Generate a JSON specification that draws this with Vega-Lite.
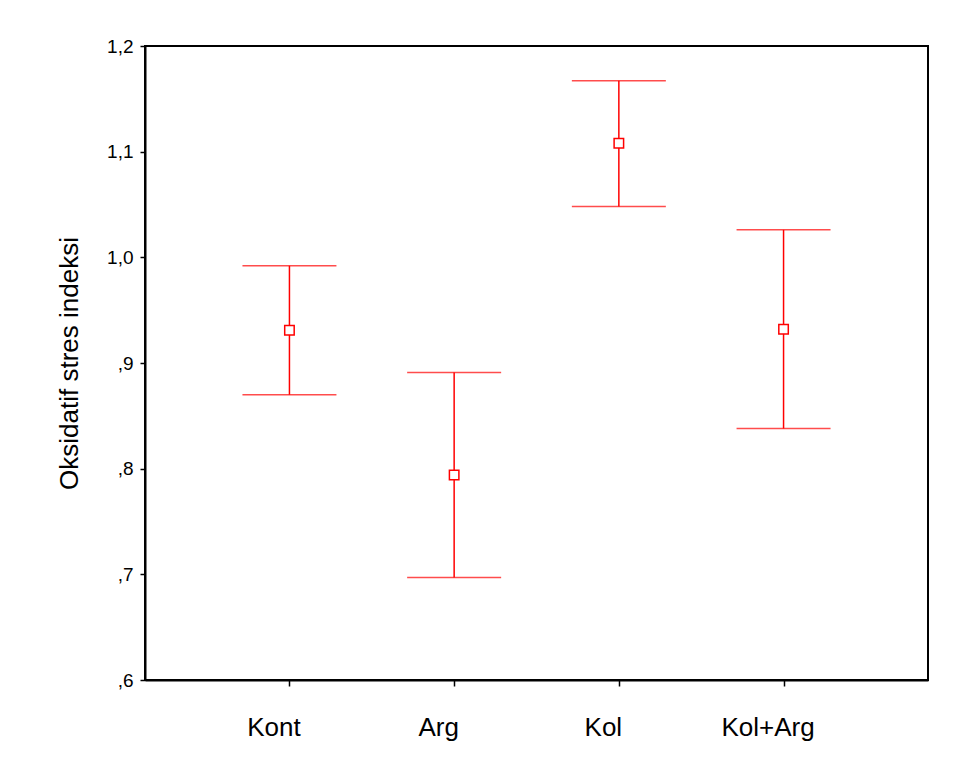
{
  "$schema": "https://vega.github.io/schema/vega-lite/v6.json",
  "width": 783,
  "height": 634,
  "autosize": {"type": "none"},
  "padding": {"left": 145, "top": 46, "right": 31, "bottom": 83},
  "background": "white",
  "data": {
    "values": [
      {"grup": "Kont", "ortalama": 0.931, "alt": 0.870, "ust": 0.992},
      {"grup": "Arg", "ortalama": 0.794, "alt": 0.697, "ust": 0.891},
      {"grup": "Kol", "ortalama": 1.108, "alt": 1.048, "ust": 1.167},
      {"grup": "Kol+Arg", "ortalama": 0.932, "alt": 0.838, "ust": 1.026}
    ]
  },
  "config": {
    "font": "Liberation Sans",
    "view": {"stroke": "#000000", "strokeWidth": 2},
    "axis": {
      "domainColor": "#000000",
      "domainWidth": 2,
      "tickColor": "#000000",
      "tickWidth": 1.5,
      "labelColor": "#000000",
      "titleColor": "#000000",
      "grid": false
    }
  },
  "encoding": {
    "x": {
      "field": "grup",
      "type": "nominal",
      "sort": null,
      "scale": {"type": "point", "padding": 0.877},
      "axis": {
        "title": null,
        "labelAngle": 0,
        "labelFontSize": 26,
        "labelPadding": 28,
        "labelOffset": -16,
        "tickSize": 6
      }
    }
  },
  "layer": [
    {
      "mark": {"type": "rule", "color": "#ff0000", "strokeWidth": 1.5},
      "encoding": {
        "y": {
          "field": "alt",
          "type": "quantitative",
          "scale": {"domain": [0.6, 1.2], "nice": false, "zero": false},
          "axis": {
            "values": [0.6, 0.7, 0.8, 0.9, 1.0, 1.1, 1.2],
            "labelExpr": "datum.value < 0.999 ? replace(format(datum.value, '.1f'), '0.', ',') : replace(format(datum.value, '.1f'), '.', ',')",
            "labelFontSize": 19,
            "labelPadding": 7,
            "tickSize": 5,
            "title": "Oksidatif stres indeksi",
            "titleFontSize": 26,
            "titleFontWeight": "normal",
            "titlePadding": 24
          }
        },
        "y2": {"field": "ust"}
      }
    },
    {
      "mark": {"type": "tick", "color": "#ff0000", "thickness": 1.5, "size": 94},
      "encoding": {"y": {"field": "alt", "type": "quantitative"}}
    },
    {
      "mark": {"type": "tick", "color": "#ff0000", "thickness": 1.5, "size": 94},
      "encoding": {"y": {"field": "ust", "type": "quantitative"}}
    },
    {
      "mark": {"type": "point", "shape": "square", "filled": true, "fill": "white", "stroke": "#ff0000", "strokeWidth": 1.5, "size": 90, "opacity": 1},
      "encoding": {"y": {"field": "ortalama", "type": "quantitative"}}
    }
  ]
}
